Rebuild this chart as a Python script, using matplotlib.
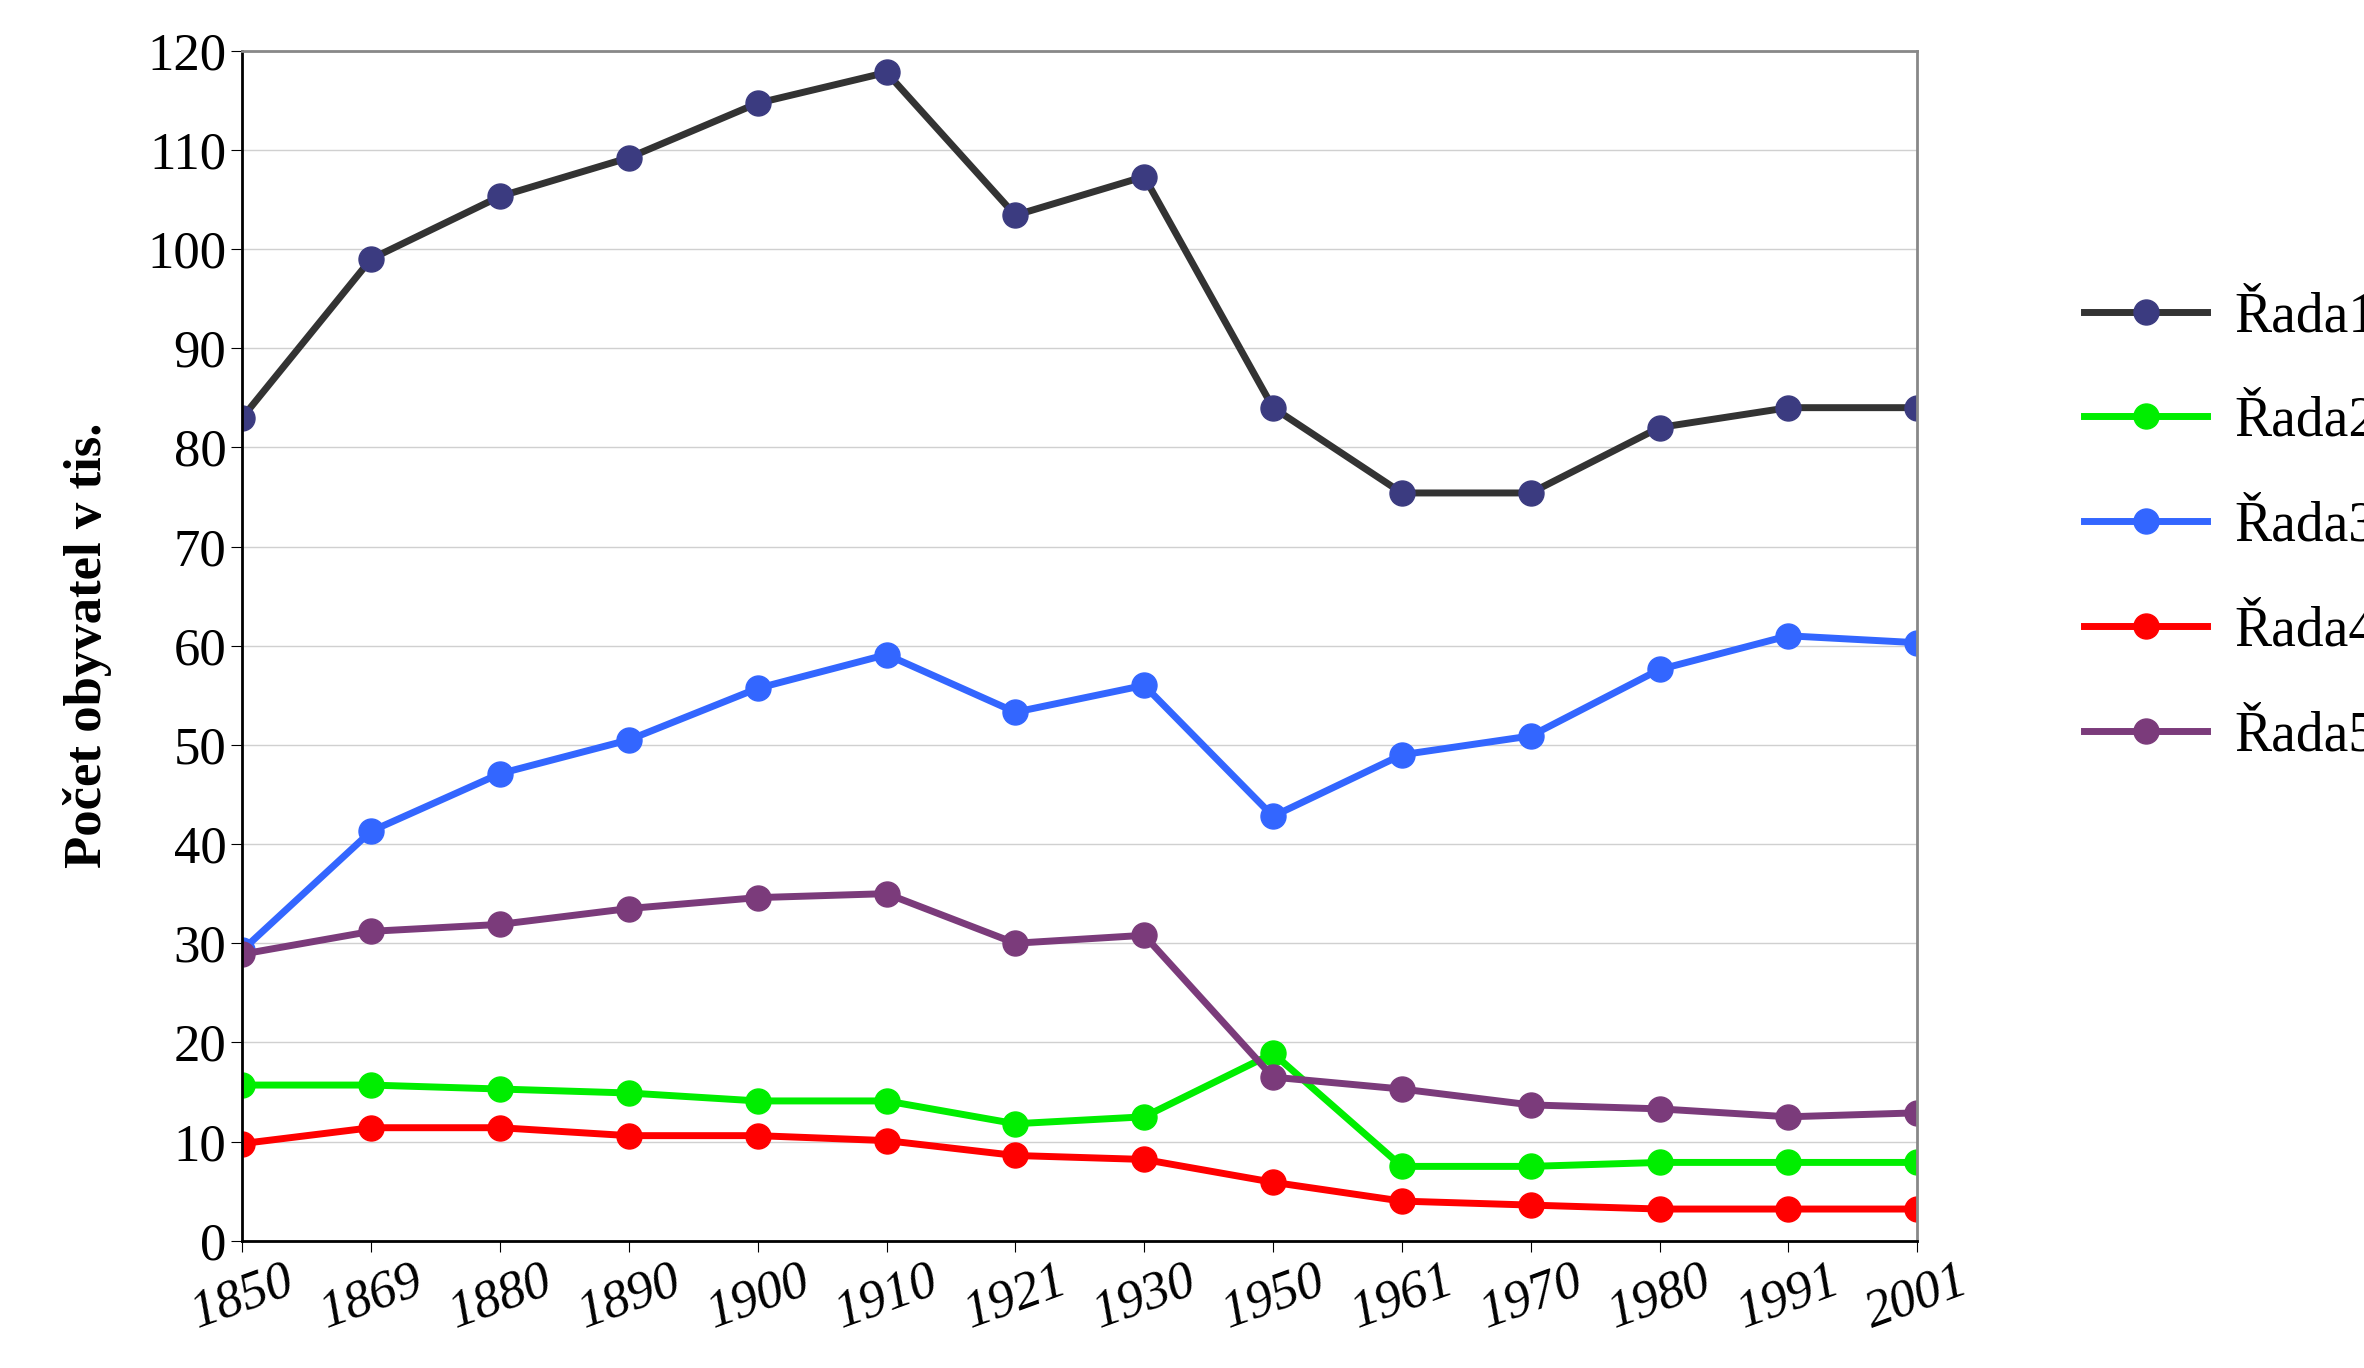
import matplotlib
matplotlib.use("Agg")
import matplotlib.pyplot as plt

years = ["1850","1869","1880","1890","1900","1910","1921","1930","1950","1961","1970","1980","1991","2001"]
rada1 = [83,99,105.3,109.2,114.7,117.8,103.4,107.3,84,75.4,75.4,82,84,84]
rada2 = [15.7,15.7,15.3,14.9,14.1,14.1,11.8,12.5,18.9,7.5,7.5,7.9,7.9,7.9]
rada3 = [29.3,41.3,47.1,50.5,55.7,59.1,53.3,56,42.8,49,50.9,57.6,61,60.3]
rada4 = [9.8,11.4,11.4,10.6,10.6,10.1,8.6,8.2,5.9,4,3.6,3.2,3.2,3.2]
rada5 = [28.9,31.2,31.9,33.5,34.6,35,30,30.8,16.5,15.3,13.7,13.3,12.5,12.9]
names = ["Řada1","Řada2","Řada3","Řada4","Řada5"]

plt.rcParams["font.family"] = "Liberation Serif"
fig = plt.figure(figsize=(23.64,13.68), dpi=100)
ax = fig.add_axes([0.1025,0.093,0.7085,0.87])
x = list(range(len(years)))
styles = [("#333333","#3b3b80"),("#00ee00","#00ee00"),("#3366ff","#3366ff"),("#ff0000","#ff0000"),("#7b3b7b","#7b3b7b")]
for d,n,(lc,mc) in zip([rada1,rada2,rada3,rada4,rada5],names,styles):
    ax.plot(x,d,color=lc,lw=5,marker="o",ms=18,mfc=mc,mec=mc,label=n)
ax.set_xlim(0,len(years)-1)
ax.set_ylim(0,120)
ax.set_yticks(range(0,121,10))
ax.set_xticks(x)
ax.set_xticklabels(years,rotation=20,fontsize=38,style="italic")
ax.tick_params(axis="y",labelsize=38,length=8)
ax.tick_params(axis="x",length=8)
ax.grid(axis="y",color="#d0d0d0",lw=1)
ax.set_axisbelow(True)
for s in ax.spines.values():
    s.set_color("#888888"); s.set_linewidth(2)
ax.spines["left"].set_color("black"); ax.spines["bottom"].set_color("black")
ax.set_ylabel("Počet obyvatel v tis.",fontsize=38,fontweight="bold",labelpad=25)
ax.legend(loc="center left",bbox_to_anchor=(1.07,0.6),frameon=False,fontsize=40,labelspacing=0.95,handlelength=2.2,handletextpad=0.5)
fig.savefig("out.png",dpi=100)
